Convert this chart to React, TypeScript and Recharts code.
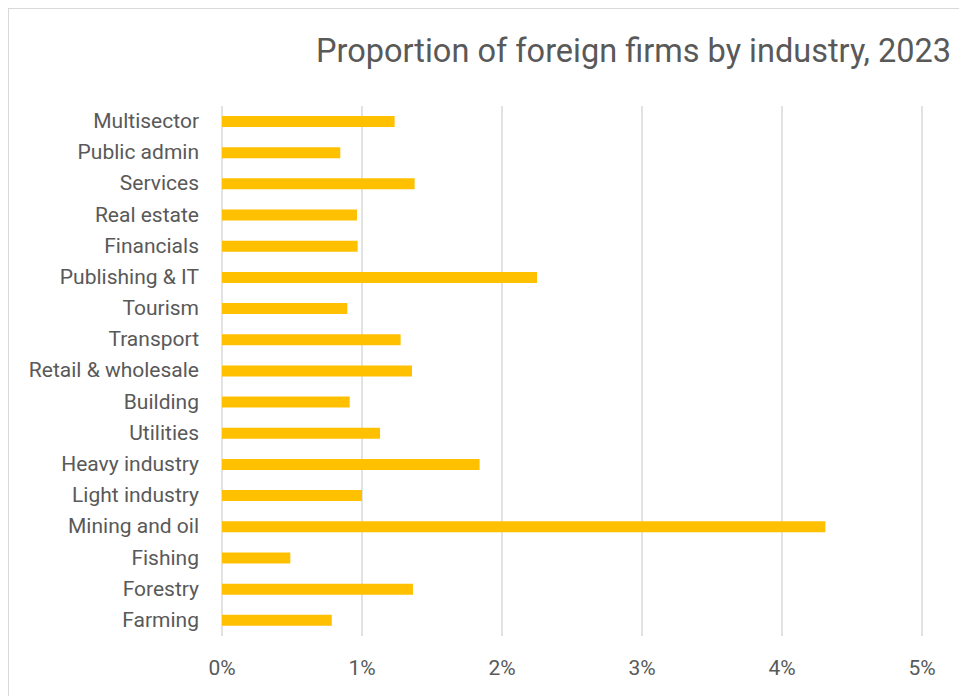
import React from "react";
import { BarChart, Bar, XAxis, YAxis, CartesianGrid } from "recharts";

const categories = [
  "Multisector",
  "Public admin",
  "Services",
  "Real estate",
  "Financials",
  "Publishing & IT",
  "Tourism",
  "Transport",
  "Retail & wholesale",
  "Building",
  "Utilities",
  "Heavy industry",
  "Light industry",
  "Mining and oil",
  "Fishing",
  "Forestry",
  "Farming",
];

const shares = [
  1.233, 0.845, 1.376, 0.964, 0.969, 2.25, 0.895, 1.276, 1.357, 0.912, 1.129,
  1.84, 1.0, 4.31, 0.488, 1.364, 0.784,
];

const xTicks = [0, 1, 2, 3, 4, 5];

const title = "Proportion of foreign firms by industry, 2023";

const data = categories.map((name, i) => ({ name, value: shares[i] }));

const FONT = "Roboto, sans-serif";
const TEXT = "#595959";

export default function App() {
  return (
    <div
      style={{
        position: "fixed",
        left: 8,
        top: 8,
        width: 951,
        height: 688,
        overflow: "hidden",
        borderTop: "1px solid #d9d9d9",
        borderLeft: "1px solid #d9d9d9",
        boxSizing: "border-box",
        background: "#fff",
      }}
    >
      <svg
        width={950}
        height={80}
        style={{ position: "absolute", left: 0, top: 0 }}
      >
        <text
          x={307}
          y={53}
          fill={TEXT}
          fontFamily={FONT}
          fontSize={32.5}
        >
          {title}
        </text>
      </svg>
      <div style={{ position: "absolute", left: 0, top: 0 }}>
        <BarChart
          width={950}
          height={679}
          data={data}
          layout="vertical"
          margin={{ top: 97, right: 37, left: 0, bottom: 22 }}
        >
          <CartesianGrid
            horizontal={false}
            vertical={true}
            stroke="#d9d9d9"
            strokeWidth={1.5}
          />
          <XAxis
            type="number"
            domain={[0, 5]}
            ticks={xTicks}
            tickFormatter={(v: number) => `${v}%`}
            axisLine={false}
            tickLine={false}
            tickSize={22}
            tickMargin={2}
            height={30}
            tick={{ fill: TEXT, fontSize: 21, fontFamily: FONT }}
            interval={0}
          />
          <YAxis
            type="category"
            dataKey="name"
            width={213}
            axisLine={false}
            tickLine={false}
            tickSize={21}
            tickMargin={2}
            interval={0}
            tick={{ fill: TEXT, fontSize: 21, fontFamily: FONT, dy: -1 }}
          />
          <Bar
            dataKey="value"
            fill="#FFC000"
            barSize={11}
            isAnimationActive={false}
          />
        </BarChart>
      </div>
    </div>
  );
}
